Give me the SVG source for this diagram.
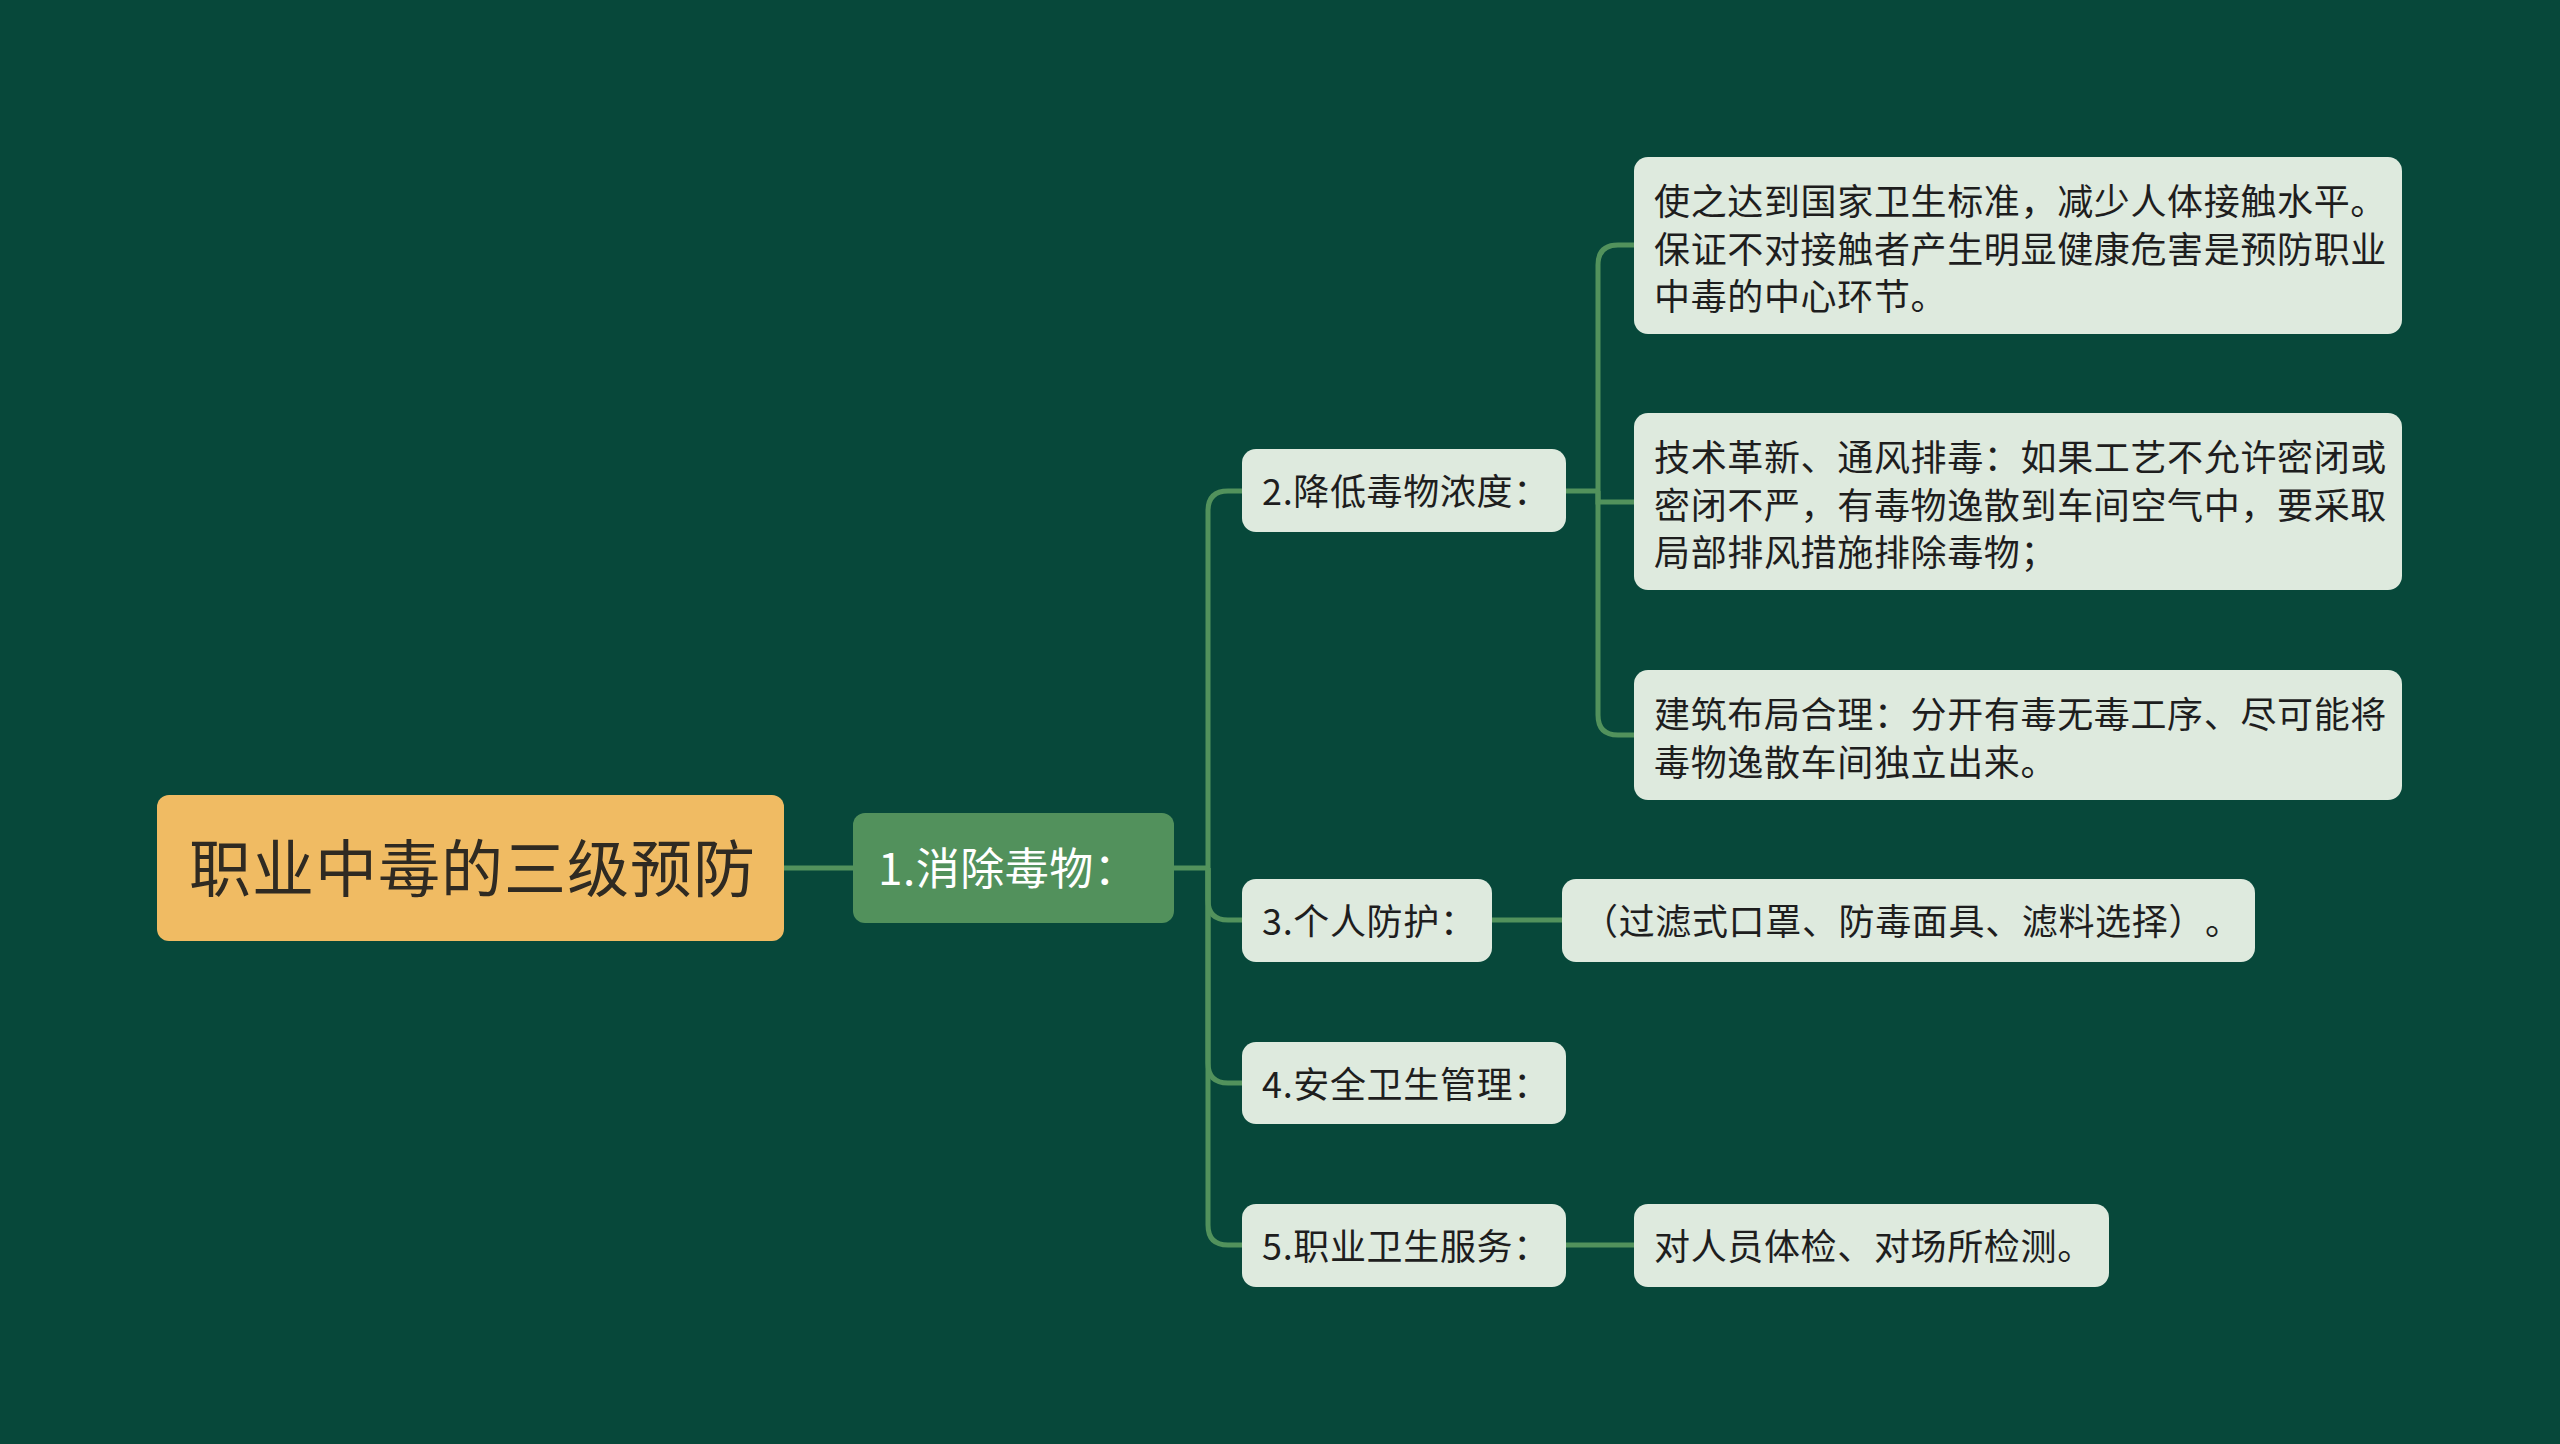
<svg xmlns="http://www.w3.org/2000/svg" width="2560" height="1444" viewBox="0 0 2560 1444">
<style>
.bg{fill:#07483a}
.lk{fill:none;stroke:#52925c;stroke-width:5}
.lt{fill:#deeade}
text{text-spacing-trim:space-all;font-kerning:none;font-feature-settings:"halt" 0,"chws" 0,"palt" 0}
.t{font-family:"Noto Sans CJK SC","Noto Sans",sans-serif;font-size:36px;letter-spacing:0.65px;fill:#1e1e1e}
.t1{font-family:"Noto Sans CJK SC","Noto Sans",sans-serif;font-size:44px;letter-spacing:0.5px;fill:#ffffff}
.t0{font-family:"Noto Sans CJK SC","Noto Sans",sans-serif;font-size:62px;letter-spacing:1px;fill:#2f2a22}
</style>
<rect class="bg" x="0" y="0" width="2560" height="1444"/>
<g id="connectors">
<path class="lk" d="M784 868 H853"/>
<path class="lk" d="M1174 868 H1208"/>
<path class="lk" d="M1208 868 V511 Q1208 491 1228 491 H1242"/>
<path class="lk" d="M1208 868 V900 Q1208 920 1228 920 H1242"/>
<path class="lk" d="M1208 868 V1063 Q1208 1083 1228 1083 H1242"/>
<path class="lk" d="M1208 868 V1225 Q1208 1245 1228 1245 H1242"/>
<path class="lk" d="M1566 491 H1598"/>
<path class="lk" d="M1598 491 V265 Q1598 245 1618 245 H1634"/>
<path class="lk" d="M1598 491 V502 H1634"/>
<path class="lk" d="M1598 491 V715 Q1598 735 1618 735 H1634"/>
<path class="lk" d="M1492 920 H1562"/>
<path class="lk" d="M1566 1245 H1634"/>
</g>
<g id="root">
<rect x="157" y="795" width="627" height="146" rx="12" fill="#f0bb63"/>
<text class="t0" x="189" y="892">职业中毒的三级预防</text>
</g>
<g id="n1">
<rect x="853" y="813" width="321" height="110" rx="12" fill="#52915c"/>
<text class="t1" x="878" y="885">1.消除毒物：</text>
</g>
<g id="n2">
<rect class="lt" x="1242" y="449" width="324" height="83" rx="14"/>
<text class="t" x="1262" y="505">2.降低毒物浓度：</text>
</g>
<g id="n2a">
<rect class="lt" x="1634" y="157" width="768" height="177" rx="14"/>
<text class="t"><tspan x="1654" y="215">使之达到国家卫生标准，减少人体接触水平。</tspan><tspan x="1654" y="262.5">保证不对接触者产生明显健康危害是预防职业</tspan><tspan x="1654" y="310">中毒的中心环节。</tspan></text>
</g>
<g id="n2b">
<rect class="lt" x="1634" y="413" width="768" height="177" rx="14"/>
<text class="t"><tspan x="1654" y="471">技术革新、通风排毒：如果工艺不允许密闭或</tspan><tspan x="1654" y="518.5">密闭不严，有毒物逸散到车间空气中，要采取</tspan><tspan x="1654" y="566">局部排风措施排除毒物；</tspan></text>
</g>
<g id="n2c">
<rect class="lt" x="1634" y="670" width="768" height="130" rx="14"/>
<text class="t"><tspan x="1654" y="728">建筑布局合理：分开有毒无毒工序、尽可能将</tspan><tspan x="1654" y="775.5">毒物逸散车间独立出来。</tspan></text>
</g>
<g id="n3">
<rect class="lt" x="1242" y="879" width="250" height="83" rx="14"/>
<text class="t" x="1262" y="935">3.个人防护：</text>
</g>
<g id="n3a">
<rect class="lt" x="1562" y="879" width="693" height="83" rx="14"/>
<text class="t" x="1582" y="935">（过滤式口罩、防毒面具、滤料选择）。</text>
</g>
<g id="n4">
<rect class="lt" x="1242" y="1042" width="324" height="82" rx="14"/>
<text class="t" x="1262" y="1098">4.安全卫生管理：</text>
</g>
<g id="n5">
<rect class="lt" x="1242" y="1204" width="324" height="83" rx="14"/>
<text class="t" x="1262" y="1260">5.职业卫生服务：</text>
</g>
<g id="n5a">
<rect class="lt" x="1634" y="1204" width="475" height="83" rx="14"/>
<text class="t" x="1654" y="1260">对人员体检、对场所检测。</text>
</g>
</svg>
